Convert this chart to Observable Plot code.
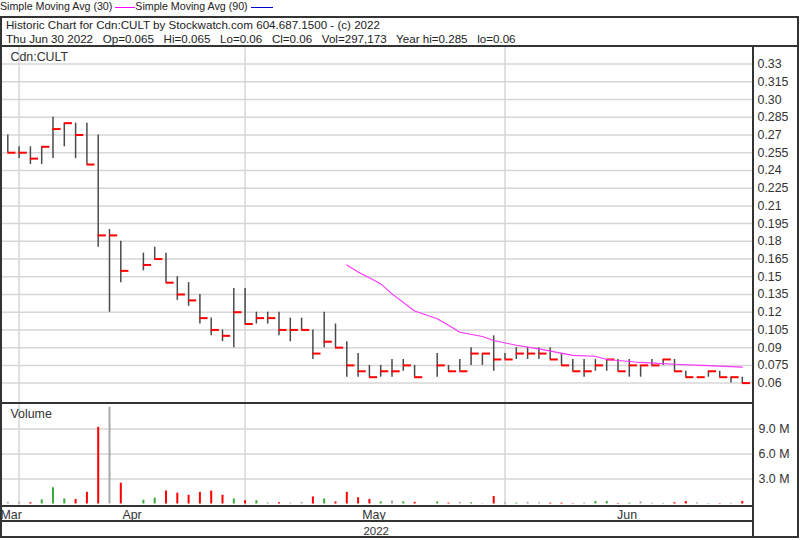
<!DOCTYPE html>
<html><head><meta charset="utf-8">
<script src="https://cdn.jsdelivr.net/npm/d3@7"></script>
<script src="https://cdn.jsdelivr.net/npm/@observablehq/plot@0.6"></script>
<style>
body{margin:0;background:#fff;font-family:"Liberation Sans",Arial,sans-serif;color:#222;}
#wrap{position:relative;width:800px;height:540px;overflow:hidden;background:#fff;}
.box{position:absolute;border:2px solid #333;box-sizing:border-box;pointer-events:none;}
.t{position:absolute;white-space:pre;}
.plot{position:absolute;left:0;}
</style></head><body>
<div id="wrap">
  <div class="t" style="left:0;top:0;font-size:10.67px;line-height:12.5px;">Simple Moving Avg (30) <span style="display:inline-block;width:20px;border-top:1px solid #ff00ff;vertical-align:middle"></span>Simple Moving Avg (90) <span style="display:inline-block;width:22px;border-top:1px solid #0000cc;vertical-align:middle"></span></div>
  <div class="t" style="left:6px;top:18px;font-size:11.6px;line-height:14.3px;">Historic Chart for Cdn:CULT by Stockwatch.com 604.687.1500 - (c) 2022
Thu Jun 30 2022   Op=0.065   Hi=0.065   Lo=0.06   Cl=0.06   Vol=297,173   Year hi=0.285   lo=0.06</div>
  <div id="price" class="plot" style="top:46px"></div>
  <div id="volume" class="plot" style="top:403px"></div>
  <div class="box" style="left:0;top:16px;width:799px;height:31px"></div>
  <div class="box" style="left:0;top:45px;width:754px;height:359px"></div>
  <div class="box" style="left:0;top:402px;width:754px;height:105px"></div>
  <div class="box" style="left:0;top:505px;width:754px;height:17px"></div>
  <div class="box" style="left:0;top:520px;width:754px;height:18px"></div>
  <div class="box" style="left:752px;top:45px;width:47px;height:493px"></div>
</div>
<script>
// Trading-day slots (index along the x axis); null = slot with no trade
const highs  = [0.27,0.26,0.26,0.26,0.285,0.28,0.28,0.28,0.27,0.19,0.18,null,0.17,0.175,0.17,0.15,0.145,0.135,0.115,0.105,0.14,0.14,0.12,0.12,0.12,0.115,0.115,0.105,0.12,0.11,0.095,0.085,0.075,0.075,0.08,0.08,0.075,null,0.085,0.075,0.08,0.09,0.085,0.10,0.085,0.09,0.09,0.09,0.09,0.085,0.08,0.08,0.08,0.08,0.08,0.08,0.075,0.08,0.08,0.08,0.07,0.065,0.07,0.07,0.065,0.065];
const lows   = [0.255,0.25,0.245,0.245,0.25,0.26,0.25,0.245,0.175,0.12,0.145,null,0.155,0.165,0.145,0.13,0.125,0.11,0.10,0.095,0.09,0.11,0.11,0.11,0.10,0.095,0.105,0.08,0.09,0.09,0.065,0.065,0.065,0.065,0.065,0.07,0.065,null,0.065,0.07,0.07,0.075,0.075,0.07,0.08,0.08,0.08,0.08,0.08,0.075,0.07,0.065,0.07,0.07,0.07,0.065,0.065,0.075,0.075,0.07,0.065,0.065,0.065,0.065,0.06,0.06];
const closes = [0.255,0.255,0.25,0.26,0.275,0.28,0.27,0.245,0.185,0.185,0.155,null,0.16,0.165,0.145,0.135,0.13,0.115,0.105,0.10,0.12,0.11,0.115,0.115,0.105,0.105,0.105,0.085,0.095,0.09,0.075,0.07,0.065,0.07,0.07,0.075,0.065,null,0.075,0.07,0.07,0.085,0.085,0.08,0.08,0.085,0.085,0.085,0.08,0.075,0.07,0.07,0.075,0.08,0.07,0.075,0.075,0.075,0.08,0.07,0.065,0.065,0.07,0.065,0.065,0.06];
// volume in millions of shares
const volumes = [0.2,0.2,0.15,0.5,1.95,0.6,0.55,1.4,9.2,11.6,2.5,null,0.45,0.7,1.55,1.3,1.05,1.4,1.55,1.05,0.6,0.4,0.4,0.15,0.15,0.1,0.2,0.85,0.6,0.25,1.4,0.75,0.55,0.25,0.35,0.25,0.2,null,0.25,0.1,0.2,0.15,0.05,0.9,0.15,0.1,0.2,0.15,0.1,0.1,0.05,0.1,0.3,0.3,0.05,0.1,0.25,0.1,0.05,0.15,0.3,0.15,0.05,0.05,0.1,0.3];
// 30-day simple moving average
const maSlots  = [30,31,33,34,36,38,39,40,42,43,45,47,50,52,53,56,59,62,65];
const maValues = [0.160,0.154,0.144,0.1355,0.121,0.1145,0.109,0.103,0.0995,0.096,0.092,0.089,0.0835,0.0827,0.080,0.0775,0.076,0.0748,0.0735];
// axes
const priceTicks = [0.06,0.075,0.09,0.105,0.12,0.135,0.15,0.165,0.18,0.195,0.21,0.225,0.24,0.255,0.27,0.285,0.30,0.315,0.33];
const priceTickLabels = ["0.06","0.075","0.09","0.105","0.12","0.135","0.15","0.165","0.18","0.195","0.21","0.225","0.24","0.255","0.27","0.285","0.30","0.315","0.33"];
const volTicks = [3,6,9];
const volTickLabels = ["3.0 M","6.0 M","9.0 M"];
const gridSlots = [1,21,44];
const monthSlots = [0.3,11,32.4,54.8];
const monthLabels = ["Mar","Apr","May","Jun"];
const yearSlots = [32.6];
const yearLabels = ["2022"];

const rows = highs.map((h,i)=>({slot:i, high:h, low:lows[i], close:closes[i], vol:volumes[i]})).filter(d=>d.close!=null);
let prev = null;
for (const d of rows) { d.col = prev==null ? "#a8a8a8" : d.close>prev ? "#3aaa3a" : d.close<prev ? "#ff0000" : "#a8a8a8"; prev = d.close; }
const ma = maSlots.map((s,i)=>({slot:s, value:maValues[i]}));
const pMap = new Map(priceTicks.map((t,i)=>[t,priceTickLabels[i]]));
const vMap = new Map(volTicks.map((t,i)=>[t,volTickLabels[i]]));
const style = {fontFamily:"'Liberation Sans', Arial, sans-serif", fontSize:"12.4px", color:"#333", background:"transparent", overflow:"visible"};
const X = {domain:[0,65], range:[7.3,741.8], axis:null};
const gridStyle = {stroke:"#d6d6d6", strokeOpacity:1, strokeWidth:1.5};

const price = Plot.plot({
  width:800, height:356, marginLeft:2, marginRight:48, marginTop:1, marginBottom:0, style,
  x: X,
  y: {domain:[0.06,0.33], range:[336.6,17.6], axis:null, label:null},
  marks: [
    Plot.gridY(priceTicks, gridStyle),
    Plot.gridX(gridSlots, gridStyle),
    Plot.axisY(priceTicks, {anchor:"right", label:null, tickSize:0, tickPadding:5, tickFormat:d=>pMap.get(d), color:"#333"}),
    Plot.ruleX(rows, {x:"slot", y1:"low", y2:"high", stroke:"#4a4a4a", strokeWidth:1.5}),
    Plot.ruleY(rows, {y:"close", x1:"slot", x2:d=>d.slot+0.72, stroke:"#ff0000", strokeWidth:2}),
    Plot.line(ma, {x:"slot", y:"value", stroke:"#ff33ff", strokeWidth:1.1}),
    Plot.text(["Cdn:CULT"], {frameAnchor:"top-left", dx:8, dy:9.5, textAnchor:"start", lineAnchor:"middle", fill:"#333"})
  ]
});
document.getElementById("price").appendChild(price);

const vol = Plot.plot({
  width:800, height:134, marginLeft:2, marginRight:48, marginTop:1, marginBottom:31, style,
  x: X,
  y: {domain:[0,12], range:[100.5,0.5], axis:null, label:null},
  color: {type:"identity"},
  marks: [
    Plot.gridY(volTicks, gridStyle),
    Plot.gridX(gridSlots, gridStyle),
    Plot.axisY(volTicks, {anchor:"right", label:null, tickSize:0, tickPadding:6, tickFormat:d=>vMap.get(d), color:"#333"}),
    Plot.ruleX(rows, {x:"slot", y1:0, y2:"vol", stroke:"col", strokeWidth:2}),
    Plot.text(["Volume"], {frameAnchor:"top-left", dx:8, dy:10, textAnchor:"start", lineAnchor:"middle", fill:"#333"}),
    Plot.text(monthSlots, {x:d=>d, text:(d,i)=>monthLabels[i], frameAnchor:"bottom", dy:8.5, lineAnchor:"middle", fill:"#333"}),
    Plot.text(yearSlots, {x:d=>d, text:(d,i)=>yearLabels[i], frameAnchor:"bottom", dy:25.3, lineAnchor:"middle", fill:"#333", fontSize:11.5})
  ]
});
document.getElementById("volume").appendChild(vol);
</script>
</body></html>
